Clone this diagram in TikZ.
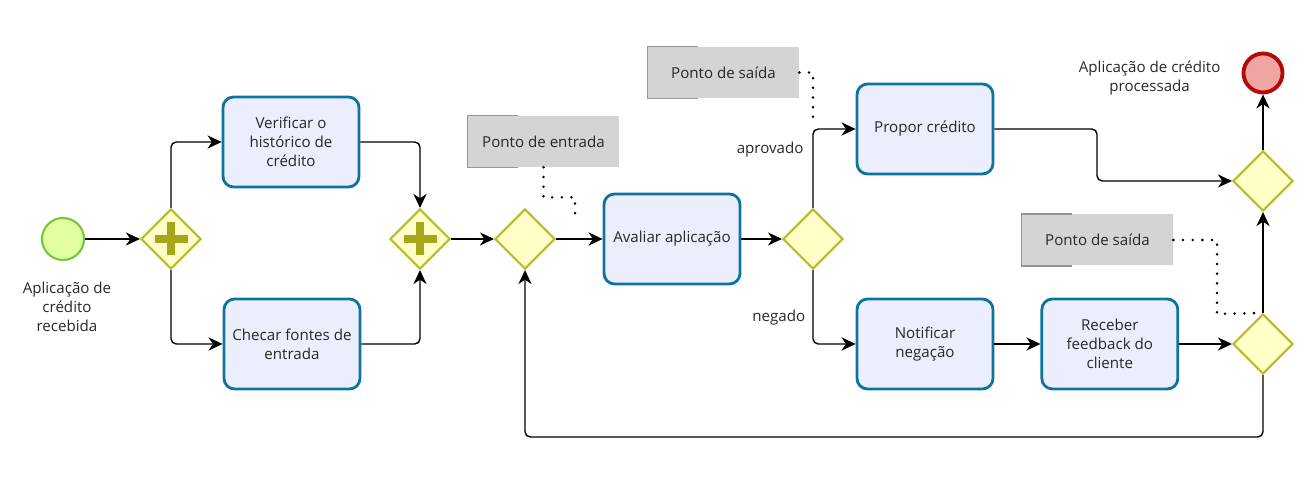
\documentclass[tikz,border=0pt]{standalone}
\usepackage{fontspec}
\setmainfont{Open Sans}
\usepackage{tikz}
\usetikzlibrary{shapes.geometric, arrows.meta, positioning}
\definecolor{tarefaborda}{RGB}{16,115,158}
\definecolor{tarefafundo}{RGB}{234,238,253}
\definecolor{gwborda}{RGB}{186,186,46}
\definecolor{gwfundo}{RGB}{255,255,200}
\definecolor{gwmais}{RGB}{166,166,28}
\definecolor{inicioborda}{RGB}{120,196,60}
\definecolor{iniciofundo}{RGB}{226,255,160}
\definecolor{fimborda}{RGB}{178,10,10}
\definecolor{fimfundo}{RGB}{240,164,164}
\definecolor{notafundo}{RGB}{212,212,212}
\definecolor{notaborda}{RGB}{150,150,150}
\definecolor{texto}{RGB}{40,40,40}
\tikzstyle{tarefa} = [rectangle, rounded corners=6pt, minimum width=2.72cm, minimum height=1.8cm, align=center, draw=tarefaborda, line width=1.6pt, fill=tarefafundo]
\tikzstyle{gateway} = [diamond, aspect=1, minimum width=1.2cm, minimum height=1.2cm, inner sep=0pt, draw=gwborda, line width=1.2pt, fill=gwfundo]
\tikzstyle{paralelo} = [gateway, path picture={\draw[gwmais, line width=4pt] (path picture bounding box.center) ++(-0.33,0) -- ++(0.66,0) (path picture bounding box.center) ++(0,-0.33) -- ++(0,0.66);}]
\tikzstyle{inicio} = [circle, minimum size=0.84cm, inner sep=0pt, draw=inicioborda, line width=1.2pt, fill=iniciofundo]
\tikzstyle{fim} = [circle, minimum size=0.78cm, inner sep=0pt, draw=fimborda, line width=2.2pt, fill=fimfundo]
\tikzstyle{nota} = [rectangle, minimum width=3.02cm, minimum height=1.02cm, fill=notafundo]
\tikzstyle{rotulo} = [align=center]
\tikzstyle{arrow} = [line width=0.8pt, ->, >={Stealth[length=8pt, width=7.5pt, inset=2.5pt]}, rounded corners=3pt]
\tikzstyle{assoc} = [line width=1.6pt, line cap=round, dash pattern=on 0pt off 5.5pt]

\begin{document}
\begin{tikzpicture}[every node/.style={font=\fontsize{8.6}{10.8}\selectfont, text=texto}]
        \useasboundingbox (0,0) rectangle (26.16,9.54);
        \node (inicio) [inicio] at (1.26,4.76) {};
        \node (inicio-rotulo) [rotulo, below=0.3cm of inicio, xshift=0.08cm] {Aplicação de\\crédito\\recebida};
        \node (gw1) [paralelo] at (3.42,4.76) {};
        \node (verificar) [tarefa] at (5.82,6.70) {Verificar o\\histórico de\\crédito};
        \node (checar) [tarefa] at (5.84,2.66) {Checar fontes de\\entrada};
        \node (gw2) [paralelo] at (8.40,4.76) {};
        \node (gw3) [gateway] at (10.50,4.76) {};
        \node (avaliar) [tarefa] at (13.44,4.76) {Avaliar aplicação};
        \node (gw4) [gateway] at (16.26,4.76) {};
        \node (propor) [tarefa] at (18.50,6.96) {Propor crédito};
        \node (notificar) [tarefa] at (18.50,2.66) {Notificar\\negação};
        \node (receber) [tarefa, right=0.92cm of notificar] {Receber\\feedback do\\cliente};
        \node (gw5) [gateway] at (25.26,5.92) {};
        \node (gw6) [gateway] at (25.26,2.66) {};
        \node (fim) [fim] at (25.26,8.08) {};
        \node (fim-rotulo) [rotulo, left=0.3cm of fim, yshift=-0.1cm] {Aplicação de crédito\\processada};

        % anotacoes
        \node (entrada) [nota] at (10.87,6.71) {Ponto de entrada};
        \node (saida1) [nota] at (14.47,8.09) {Ponto de saída};
        \node (saida2) [nota] at (21.95,4.74) {Ponto de saída};
        \foreach \n in {entrada, saida1, saida2}
            \draw [notaborda, line width=0.8pt] ([xshift=1cm]\n.north west) -| (\n.south west) -- ++(1,0);

        \coordinate (dobra) at (21.94,6.96);
        \coordinate (retorno) at (25.26,0.80);
        \coordinate (entrada-alvo) at (11.50,5.18);
        \coordinate (saida1-alvo) at (16.26,7.04);
        \coordinate (saida2-dobra) at (24.34,3.26);

        \draw [arrow] (inicio) -- (gw1);
        \draw [arrow] (gw1.north) |- (verificar.west);
        \draw [arrow] (gw1.south) |- (checar.west);
        \draw [arrow] (verificar.east) -| (gw2.north);
        \draw [arrow] (checar.east) -| (gw2.south);
        \draw [arrow] (gw2.east) -- (gw3.west);
        \draw [arrow] (gw3.east) -- (avaliar.west);
        \draw [arrow] (avaliar.east) -- (gw4.west);
        \draw [arrow] (gw4.north) |- node[pos=0.37, anchor=east, inner sep=0pt, xshift=-5pt] {aprovado} (propor.west);
        \draw [arrow] (gw4.south) |- node[pos=0.32, anchor=east, inner sep=0pt, xshift=-4pt] {negado} (notificar.west);
        \draw [arrow] (notificar) -- (receber);
        \draw [arrow] (propor.east) -- (dobra) |- (gw5.west);
        \draw [arrow] (receber.east) -- (gw6.west);
        \draw [arrow] (gw6.north) -- (gw5.south);
        \draw [arrow] (gw5.north) -- (fim.south);
        \draw [arrow] (gw6.south) -- (retorno) -| (gw3.south);

        \draw [assoc] (entrada.south) -- ++(0,-0.6) -| (entrada-alvo);
        \draw [assoc] (saida1.east) -| (saida1-alvo);
        \draw [assoc] (saida2.east) -| (saida2-dobra) -- (gw6.north);
    \end{tikzpicture}
\end{document}
